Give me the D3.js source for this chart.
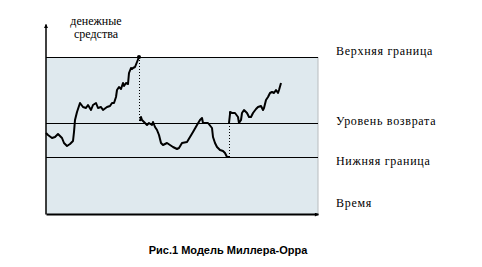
<!DOCTYPE html>
<html>
<head>
<meta charset="utf-8">
<script src="https://cdn.jsdelivr.net/npm/d3@7"></script>
<style>
    body { margin: 0; background: #fff; }
    .label { font-family: "Liberation Serif", serif; font-size: 12px; fill: #000; }
    .level-label { letter-spacing: 0.7px; }
    .caption { font-family: "Liberation Sans", Arial, sans-serif; font-size: 11px; font-weight: bold; fill: #000; }
</style>
</head>
<body>
<div id="chart"></div>
<script>
const container_id = 'chart';
const width = 482, height = 267;

// levels of cash (value = height above the time axis)
const lowerBound = 57, returnLevel = 91, upperBound = 157;

// path of cash balance: [time, cash]
const segment1 = [[0,81],[2,79],[6,76],[9,77],[12,80],[16,76],[18,71],[21,68],[24,70],[27,73],[28,82],[29,94],[31,102],[34,111],[37,107],[40,106],[42,109],[45,104],[47,109],[50,111],[52,106],[55,107],[57,104],[61,107],[64,108],[66,111],[68,111],[70,117],[71,124],[73,127],[75,125],[77,131],[78,128],[80,131],[82,130],[83,141],[85,146],[86,145],[87,146],[89,147],[91,152],[93,157]];
const segment2 = [[94,93],[95,97],[96,94],[98,92],[101,89],[103,91],[106,89],[107,92],[109,87],[111,84],[113,79],[115,71],[117,69],[121,71],[124,69],[127,67],[131,65],[133,66],[136,71],[141,72],[144,77],[147,82],[151,89],[154,94],[156,96],[157,91],[159,91],[162,91],[166,86],[167,77],[169,71],[171,67],[174,64],[177,63],[179,61],[181,57],[183,57]];
const segment3 = [[183,91],[184,100],[184,102],[186,101],[189,101],[192,97],[193,91],[195,94],[196,101],[198,104],[201,101],[203,97],[205,97],[207,101],[210,105],[212,107],[215,108],[217,104],[218,106],[220,114],[222,117],[224,121],[226,122],[228,121],[230,124],[232,121],[233,124],[235,131]];
// jumps of the balance back to the return level
const jumps = [[93, upperBound, returnLevel], [183, lowerBound, returnLevel]];

const levelNames = ['Верхняя граница', 'Уровень возврата', 'Нижняя граница', 'Время'];
const levelLabelY = [55, 125, 165, 207];

const xScale = d3.scaleLinear().domain([0, 272]).range([46, 318]);
const yScale = d3.scaleLinear().domain([0, 190]).range([214, 24]);

function drawArrows(svg) {
    const defs = svg.append('defs');
    defs.append('marker')
        .attr('id', 'arrow')
        .attr('viewBox', '0 0 10 10')
        .attr('refX', 9).attr('refY', 5)
        .attr('markerWidth', 5).attr('markerHeight', 4)
        .attr('markerUnits', 'userSpaceOnUse')
        .attr('orient', 'auto')
        .append('path')
        .attr('d', 'M0,0L10,5L0,10z')
        .attr('fill', '#000');
}

function drawBand(svg) {
    svg.append('rect')
        .attr('x', xScale(0))
        .attr('y', yScale(upperBound))
        .attr('width', xScale(272) - xScale(0))
        .attr('height', yScale(0) - yScale(upperBound))
        .attr('fill', '#dfe9ee');
    svg.append('line')
        .attr('x1', xScale(272)).attr('x2', xScale(272))
        .attr('y1', yScale(upperBound)).attr('y2', yScale(0))
        .attr('stroke', '#b8bcbf');

    svg.selectAll('.level')
        .data([upperBound, returnLevel, lowerBound])
        .enter().append('line')
        .attr('class', 'level')
        .attr('x1', xScale(0)).attr('x2', xScale(272))
        .attr('y1', d => yScale(d) + 0.5).attr('y2', d => yScale(d) + 0.5)
        .attr('stroke', '#000');
}

function drawXAxis(svg) {
    svg.append('g')
        .attr('transform', 'translate(0,' + yScale(0) + ')')
        .call(d3.axisBottom(xScale).tickValues([]).tickSizeOuter(0))
        .select('.domain')
        .attr('stroke-width', 2)
        .attr('marker-end', 'url(#arrow)');
}

function drawYAxis(svg) {
    svg.append('g')
        .attr('transform', 'translate(' + (xScale(0) - 0.5) + ',0)')
        .call(d3.axisLeft(yScale).tickValues([]).tickSizeOuter(0))
        .select('.domain')
        .attr('stroke-width', 1.5)
        .attr('marker-end', 'url(#arrow)');
}

function drawPath(svg) {
    const line = d3.line().x(d => xScale(d[0])).y(d => yScale(d[1]));
    svg.selectAll('.cash')
        .data([segment1, segment2, segment3])
        .enter().append('path')
        .attr('class', 'cash')
        .attr('d', line)
        .attr('fill', 'none')
        .attr('stroke', '#000')
        .attr('stroke-width', 2)
        .attr('stroke-linejoin', 'round');

    svg.selectAll('.jump')
        .data(jumps)
        .enter().append('line')
        .attr('class', 'jump')
        .attr('x1', d => xScale(d[0]) + 0.5).attr('x2', d => xScale(d[0]) + 0.5)
        .attr('y1', d => yScale(d[1])).attr('y2', d => yScale(d[2]))
        .attr('stroke', '#000')
        .attr('stroke-dasharray', '1,2');

    svg.append('circle')
        .attr('cx', xScale(segment1[segment1.length - 1][0]))
        .attr('cy', yScale(segment1[segment1.length - 1][1]))
        .attr('r', 2)
        .attr('fill', '#000');
}

function drawLabels(svg) {
    svg.selectAll('.level-label')
        .data(levelNames)
        .enter().append('text')
        .attr('class', 'label level-label')
        .attr('x', 336)
        .attr('y', (d, i) => levelLabelY[i])
        .text(d => d);

    svg.append('text')
        .attr('class', 'label')
        .attr('x', 96).attr('y', 25)
        .attr('text-anchor', 'middle')
        .text('денежные');
    svg.append('text')
        .attr('class', 'label')
        .attr('x', 96).attr('y', 38)
        .attr('text-anchor', 'middle')
        .text('средства');

    svg.append('text')
        .attr('class', 'caption')
        .attr('x', 228).attr('y', 254)
        .attr('text-anchor', 'middle')
        .text('Рис.1 Модель Миллера-Орра');
}

function drawChart() {
    let svg = d3.select('#' + container_id)
                .append('svg')
                .attr('width', width)
                .attr('height', height);

    drawArrows(svg);
    drawBand(svg);
    drawPath(svg);
    drawXAxis(svg);
    drawYAxis(svg);
    drawLabels(svg);
}

drawChart();
</script>
</body>
</html>
